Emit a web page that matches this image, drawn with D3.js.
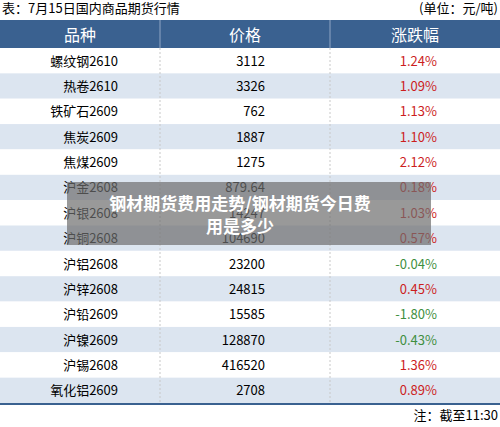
<!DOCTYPE html>
<html><head><meta charset="utf-8">
<script src="https://cdn.jsdelivr.net/npm/d3@7/dist/d3.min.js"></script>
<style>body{margin:0;background:#fff}text{font-family:"Noto Sans CJK SC","Noto Sans",sans-serif}</style>
</head><body><svg id="c" width="500" height="427"></svg>
<script>
const names = ["螺纹钢2610","热卷2610","铁矿石2609","焦炭2609","焦煤2609","沪金2608","沪银2608","沪铜2608","沪铝2608","沪锌2608","沪铅2609","沪镍2609","沪锡2608","氧化铝2609"];
const prices = ["3112","3326","762","1887","1275","879.64","14247","104690","23200","24815","15585","128870","416520","2708"];
const changes = [1.24,1.09,1.13,1.10,2.12,0.18,1.03,0.57,-0.04,0.45,-1.80,-0.43,1.36,0.89];
const headers = ["品种","价格","涨跌幅"];

const svg = d3.select("#c");
const tableTop = 48, tableBottom = 403;
const y = d3.scaleBand().domain(d3.range(names.length)).range([tableTop, tableBottom]);
const cols = [0, 160, 330, 500];

svg.append("text").attr("x", 2).attr("y", 13).attr("font-size", 13).text("表：7月15日国内商品期货行情");
svg.append("text").attr("x", 498).attr("y", 13).attr("font-size", 13).attr("text-anchor", "end").text("(单位：元/吨)");

svg.append("rect").attr("x", 0).attr("y", 20).attr("width", 500).attr("height", 28).attr("fill", "#3a6190");
headers.forEach((h, i) => {
  svg.append("text").attr("x", (cols[i] + cols[i + 1]) / 2).attr("y", 41).attr("font-size", 16)
    .attr("fill", "#fff").attr("text-anchor", "middle").text(h);
});

const rows = svg.selectAll("g.row").data(names).enter().append("g").attr("class", "row")
  .attr("transform", (d, i) => `translate(0,${y(i)})`);
rows.append("rect").attr("width", 500).attr("height", y.bandwidth())
  .attr("fill", (d, i) => i % 2 ? "#dce5f0" : "#fff");
const ty = y.bandwidth() / 2 + 5;
rows.append("text").attr("x", 118).attr("y", ty).attr("font-size", 13).attr("text-anchor", "end").text(d => d);
rows.append("text").attr("x", 265).attr("y", ty).attr("font-size", 13).attr("text-anchor", "end").text((d, i) => prices[i]);
rows.append("text").attr("x", 437).attr("y", ty).attr("font-size", 13).attr("text-anchor", "end")
  .attr("fill", (d, i) => changes[i] < 0 ? "#3f8f3f" : "#cc1e1e")
  .text((d, i) => changes[i].toFixed(2) + "%");

[160, 330].forEach(x => {
  svg.append("line").attr("x1", x).attr("x2", x).attr("y1", 20).attr("y2", 48).attr("stroke", "#8fa6c4");
  svg.append("line").attr("x1", x).attr("x2", x).attr("y1", 48).attr("y2", tableBottom)
    .attr("stroke", "#c8c8c8").attr("stroke-dasharray", "2,2");
});
svg.append("line").attr("x1", 0).attr("x2", 500).attr("y1", tableBottom + 1).attr("y2", tableBottom + 1).attr("stroke", "#3a6190").attr("stroke-width", 2);
svg.append("text").attr("x", 498).attr("y", 420).attr("font-size", 13).attr("text-anchor", "end").text("注：截至11:30");

svg.append("rect").attr("x", 67).attr("y", 182).attr("width", 364).attr("height", 63).attr("fill", "#6e6e6e").attr("opacity", 0.7);
svg.append("text").attr("x", 240).attr("y", 210).attr("font-size", 17).attr("font-weight", "bold").attr("fill", "#fff")
  .attr("text-anchor", "middle").text("钢材期货费用走势/钢材期货今日费");
svg.append("text").attr("x", 240).attr("y", 233).attr("font-size", 17).attr("font-weight", "bold").attr("fill", "#fff")
  .attr("text-anchor", "middle").text("用是多少");
</script></body></html>
